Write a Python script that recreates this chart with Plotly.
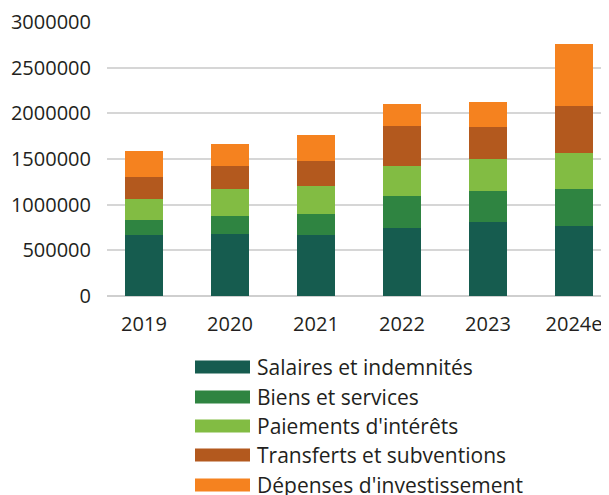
import plotly.graph_objects as go

years = ["2019", "2020", "2021", "2022", "2023", "2024e"]
series_names = ["Salaires et indemnités", "Biens et services", "Paiements d'intérêts",
                "Transferts et subventions", "Dépenses d'investissement"]
salaires = [669000, 680000, 669000, 746000, 811000, 768000]
biens = [164000, 197000, 230000, 350000, 340000, 405000]
interets = [231000, 296000, 307000, 329000, 351000, 395000]
transferts = [241000, 252000, 274000, 439000, 351000, 515000]
investissement = [285000, 242000, 285000, 241000, 274000, 680000]
colors = ["#165C4F", "#2F8441", "#82BC43", "#B3591E", "#F5821F"]
y_ticks = [0, 500000, 1000000, 1500000, 2000000, 2500000, 3000000]

FONT = "Open Sans"
TXT = "#231F20"

fig = go.Figure()
for name, vals, c in zip(series_names, [salaires, biens, interets, transferts, investissement], colors):
    fig.add_trace(go.Bar(x=years, y=vals, name=name, marker=dict(color=c, line=dict(width=0)),
                         width=0.442, showlegend=False))

# page body has an 8px margin; compensate so the figure fills the 609x495 window
OFF = 8
W, H = 609 - OFF, 495 - OFF
ml, mt = 107 - OFF, 22 - OFF
plot_bottom = 296 - OFF
mb = H - plot_bottom
fig.update_layout(
    width=W, height=H, barmode="stack",
    margin=dict(l=ml, r=0, t=mt, b=mb, autoexpand=False),
    plot_bgcolor="white", paper_bgcolor="white",
    font=dict(family=FONT, size=20, color=TXT),
    xaxis=dict(range=[-0.43, 5.407], showgrid=False, showline=False, ticks="",
               automargin=False, tickfont=dict(size=20, color=TXT), ticklabelstandoff=14),
    yaxis=dict(range=[0, 3000000], tickvals=y_ticks, ticktext=[str(v) for v in y_ticks],
               automargin=False, showgrid=True, gridcolor="#D6D6D6", gridwidth=1.6,
               zeroline=True, zerolinecolor="#CFCFCF", zerolinewidth=1.6,
               tickfont=dict(size=20, color=TXT), ticks="", ticklabelstandoff=15),
)

# custom legend (paper coordinates), positions given in window pixels
ph = H - mt - mb
pw = W - ml
def px_x(x):
    return (x - OFF - ml) / pw
def px_y(y):
    return (plot_bottom - (y - OFF)) / ph

legend_y = [367, 397, 426, 455, 485]
for name, c, yc in zip(series_names, colors, legend_y):
    fig.add_shape(type="rect", xref="paper", yref="paper",
                  x0=px_x(195), x1=px_x(250), y0=px_y(yc + 6.5), y1=px_y(yc - 6.5),
                  fillcolor=c, line=dict(width=0))
    fig.add_annotation(xref="paper", yref="paper", x=px_x(255), y=px_y(yc),
                       text=name, showarrow=False, xanchor="left", yanchor="middle",
                       font=dict(size=21, color=TXT, family=FONT))

fig.write_html("out.html")
